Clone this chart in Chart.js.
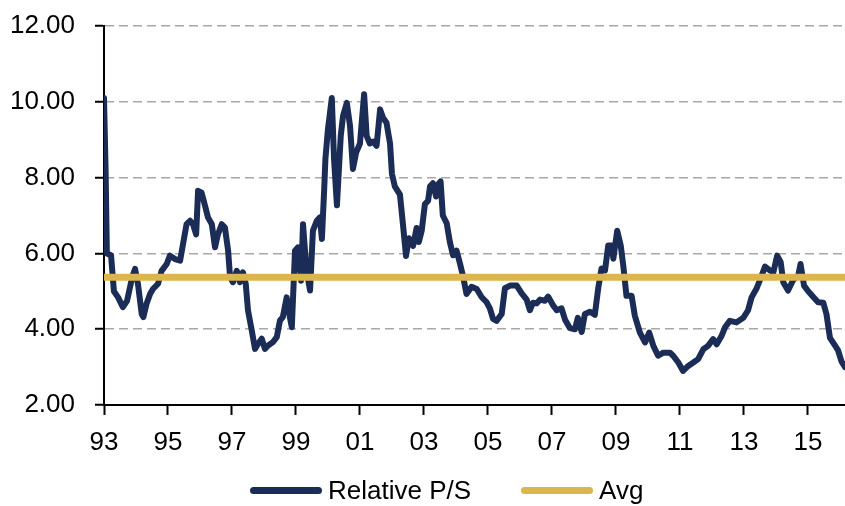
<!DOCTYPE html>
<html>
<head>
<meta charset="utf-8">
<script src="https://cdn.jsdelivr.net/npm/chart.js@4.4.1/dist/chart.umd.min.js"></script>
<style>
  html, body { margin: 0; padding: 0; background: #fff; }
  #wrap { position: relative; width: 845px; height: 506px; }
  #legend {
    position: absolute; left: 250px; top: 475px; height: 30px;
    display: flex; align-items: center;
    font-family: "Liberation Sans", Arial, sans-serif;
    font-size: 26px; line-height: 30px; color: #000;
  }
  .item { display: flex; align-items: center; margin-right: 50px; }
  .swatch { width: 72px; height: 7px; border-radius: 3.5px; margin-right: 6px; }
</style>
</head>
<body>
<div id="wrap">
  <canvas id="chart" width="845" height="506"></canvas>
  <div id="legend"></div>
</div>
<script>
// decimal years
const dates = [
  1993.00, 1993.05, 1993.09, 1993.22, 1993.31, 1993.44, 1993.59, 1993.72, 1993.88, 1993.97,
  1994.06, 1994.18, 1994.23, 1994.33, 1994.44, 1994.53, 1994.69, 1994.80, 1994.96,
  1995.06, 1995.22, 1995.38, 1995.47, 1995.58, 1995.69, 1995.78, 1995.88, 1995.94,
  1996.05, 1996.16, 1996.25, 1996.37, 1996.47, 1996.56, 1996.68, 1996.78, 1996.88, 1996.94,
  1997.03, 1997.15, 1997.25, 1997.34, 1997.43, 1997.50, 1997.62, 1997.72, 1997.81, 1997.93,
  1998.03, 1998.13, 1998.28, 1998.40, 1998.50, 1998.59, 1998.71, 1998.81, 1998.87, 1998.97,
  1999.06, 1999.16, 1999.22, 1999.33, 1999.44, 1999.53, 1999.65, 1999.75, 1999.81, 1999.88, 1999.92,
  2000.00, 2000.12, 2000.19, 2000.28, 2000.40, 2000.47, 2000.59, 2000.69, 2000.78, 2000.88,
  2001.00, 2001.13, 2001.21, 2001.31, 2001.41, 2001.52, 2001.63, 2001.72, 2001.83, 2001.94,
  2002.00, 2002.09, 2002.25, 2002.34, 2002.44, 2002.53, 2002.66, 2002.77, 2002.84, 2002.93,
  2003.03, 2003.13, 2003.19, 2003.28, 2003.38, 2003.44, 2003.52, 2003.59, 2003.71, 2003.81, 2003.91,
  2004.02, 2004.13, 2004.22, 2004.33, 2004.49, 2004.65, 2004.80, 2004.96,
  2005.06, 2005.16, 2005.27, 2005.43, 2005.53, 2005.69, 2005.90,
  2006.05, 2006.21, 2006.31, 2006.41, 2006.52, 2006.63, 2006.78, 2006.88,
  2007.03, 2007.15, 2007.30, 2007.41, 2007.56, 2007.72, 2007.81, 2007.93,
  2008.03, 2008.19, 2008.34, 2008.45, 2008.55, 2008.66, 2008.76, 2008.87, 2008.92,
  2009.04, 2009.15, 2009.23, 2009.33, 2009.49, 2009.59, 2009.75, 2009.91,
  2010.04, 2010.17, 2010.32, 2010.48, 2010.69, 2010.79, 2010.95,
  2011.10, 2011.26, 2011.42, 2011.57, 2011.73, 2011.88,
  2012.04, 2012.15, 2012.30, 2012.41, 2012.56, 2012.77, 2012.98,
  2013.13, 2013.24, 2013.40, 2013.55, 2013.66, 2013.81, 2013.92,
  2014.04, 2014.15, 2014.23, 2014.38, 2014.54, 2014.70, 2014.77, 2014.88,
  2015.01, 2015.17, 2015.32, 2015.48, 2015.58, 2015.69, 2015.84, 2015.94,
  2016.05, 2016.16
];

const relativePS = [
  10.1, 8.2, 6.0, 5.95, 5.0, 4.84, 4.58, 4.75, 5.37, 5.59,
  5.2, 4.4, 4.32, 4.67, 4.93, 5.06, 5.2, 5.54, 5.72,
  5.94, 5.85, 5.81, 6.25, 6.77, 6.86, 6.77, 6.5, 7.65,
  7.6, 7.25, 6.95, 6.77, 6.16, 6.5, 6.77, 6.68, 6.07, 5.37,
  5.24, 5.54, 5.24, 5.5, 5.2, 4.5, 3.96, 3.48, 3.61, 3.75,
  3.48, 3.57, 3.66, 3.79, 4.23, 4.32, 4.84, 4.32, 4.05, 6.07,
  6.16, 5.28, 6.77, 5.54, 5.02, 6.6, 6.86, 6.95, 6.38, 7.65, 8.49,
  9.28, 10.1, 8.49, 7.27, 9.1, 9.62, 9.97, 9.36, 8.23, 8.66,
  8.9, 10.2, 9.1, 8.9, 8.95, 8.84, 9.8, 9.58, 9.45, 8.9,
  8.1, 7.77, 7.55, 6.8, 5.93, 6.4, 6.2, 6.67, 6.3, 6.6,
  7.3, 7.39, 7.77, 7.85, 7.5, 7.82, 7.9, 7.0, 6.8, 6.3, 5.95,
  6.07, 5.72, 5.4, 4.93, 5.12, 5.06, 4.85, 4.71,
  4.55, 4.27, 4.22, 4.4, 5.08, 5.15, 5.15,
  4.95, 4.78, 4.5, 4.7, 4.68, 4.78, 4.75, 4.86,
  4.64, 4.5, 4.55, 4.25, 4.03, 4.0, 4.3, 3.93,
  4.4, 4.46, 4.38, 5.1, 5.6, 5.55, 6.21, 6.21, 5.86,
  6.6, 6.21, 5.68, 4.88, 4.88, 4.36, 3.91, 3.65,
  3.91, 3.56, 3.3, 3.38, 3.38, 3.3, 3.12,
  2.9, 3.03, 3.12, 3.21, 3.47, 3.56,
  3.74, 3.6, 3.82, 4.05, 4.22, 4.18, 4.3,
  4.5, 4.84, 5.08, 5.4, 5.65, 5.55, 5.5,
  5.94, 5.77, 5.24, 5.02, 5.3, 5.42, 5.72, 5.15,
  5.0, 4.85, 4.71, 4.7, 4.4, 3.77, 3.58, 3.45,
  3.15, 3.0
];

const avgValue = 5.37;
const tickYears = [1993, 1995, 1997, 1999, 2001, 2003, 2005, 2007, 2009, 2011, 2013, 2015];
const xStart = 1993;
const xEnd = 2016.16;
const yMin = 2;
const yMax = 12;
const yStep = 2;

const tickFont = { family: '"Liberation Sans", Arial, sans-serif', size: 26 };

const chart = new Chart(document.getElementById('chart'), {
  type: 'line',
  data: {
    datasets: [
      {
        label: 'Relative P/S',
        data: dates.map((d, i) => ({ x: d, y: relativePS[i] })),
        borderColor: '#1b2d56',
        backgroundColor: '#1b2d56',
        borderWidth: 6,
        pointRadius: 0,
        tension: 0,
        borderJoinStyle: 'round',
        borderCapStyle: 'round',
        order: 1
      },
      {
        label: 'Avg',
        data: [{ x: xStart, y: avgValue }, { x: xEnd, y: avgValue }],
        borderColor: '#dab64c',
        backgroundColor: '#dab64c',
        borderWidth: 7,
        pointRadius: 0,
        order: 0
      }
    ]
  },
  options: {
    responsive: false,
    animation: false,
    layout: { padding: { left: 0, right: 0, top: 26, bottom: 0 } },
    plugins: {
      legend: { display: false },
      tooltip: { enabled: false }
    },
    scales: {
      x: {
        type: 'linear',
        min: xStart,
        max: xEnd,
        afterBuildTicks: scale => { scale.ticks = tickYears.map(v => ({ value: v })); },
        afterFit: scale => { scale.height = 101; },
        grid: { drawOnChartArea: false, tickLength: 10, tickColor: '#000', tickWidth: 2 },
        border: { color: '#000', width: 2 },
        ticks: {
          autoSkip: false,
          maxRotation: 0,
          padding: 12,
          color: '#000',
          font: tickFont,
          callback: v => String(v).slice(2)
        }
      },
      y: {
        min: yMin,
        max: yMax,
        afterFit: scale => {
          scale.width = 104;
          scale.paddingTop = 0;
          scale.paddingBottom = 0;
        },
        grid: { color: '#a8a8a8', lineWidth: 1.5, tickLength: 9, tickColor: '#000', tickWidth: 2, tickBorderDash: [] },
        border: { color: '#000', width: 2, dash: [9, 5] },
        ticks: {
          stepSize: yStep,
          padding: 20,
          color: '#000',
          font: tickFont,
          callback: v => v.toFixed(2)
        }
      }
    }
  }
});

// html legend in dataset order
const legend = document.getElementById('legend');
chart.data.datasets.forEach(ds => {
  const item = document.createElement('div');
  item.className = 'item';
  const sw = document.createElement('span');
  sw.className = 'swatch';
  sw.style.background = ds.borderColor;
  const txt = document.createElement('span');
  txt.textContent = ds.label;
  item.appendChild(sw);
  item.appendChild(txt);
  legend.appendChild(item);
});
</script>
</body>
</html>
